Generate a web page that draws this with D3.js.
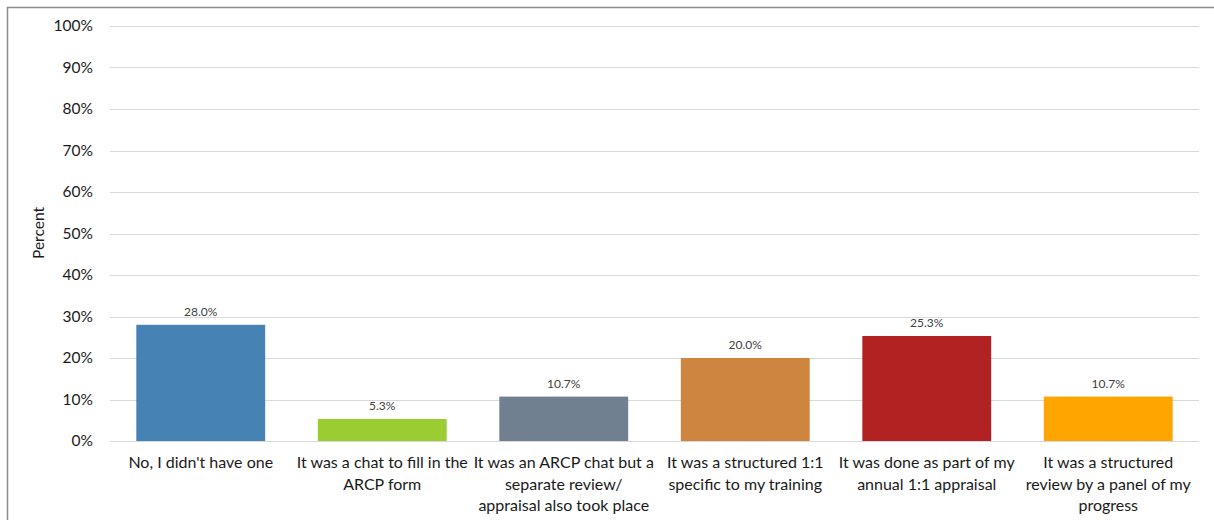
<!DOCTYPE html>
<html>
<head>
<meta charset="utf-8">
<script src="https://cdn.jsdelivr.net/npm/d3@7"></script>
<style>
  body { margin: 0; background: #fff; }
  svg text { font-family: Lato, "Open Sans", sans-serif; fill: #1a1a1a; }
</style>
</head>
<body>
<script>
'use strict';

// categories (line breaks as in the original chart)
const categories = [
  "No, I didn't have one",
  "It was a chat to fill in the\nARCP form",
  "It was an ARCP chat but a\nseparate review/\nappraisal also took place",
  "It was a structured 1:1\nspecific to my training",
  "It was done as part of my\nannual 1:1 appraisal",
  "It was a structured\nreview by a panel of my\nprogress"
];
const values = [28.0, 5.3, 10.7, 20.0, 25.3, 10.7];
const barColors = ["#4682B4", "#9ACD32", "#708090", "#CD853F", "#B22222", "#FFA500"];
const yTicks = [0, 10, 20, 30, 40, 50, 60, 70, 80, 90, 100];

const width = 1214, height = 520;
const margin = { left: 110, right: 15, top: 26, bottom: 79 };

const svg = d3.select('body').append('svg')
  .attr('width', width)
  .attr('height', height);

// outer chart frame
svg.append('rect')
  .attr('x', 7.5).attr('y', 7.5)
  .attr('width', width + 10).attr('height', height + 10)
  .attr('fill', 'none')
  .attr('stroke', '#8c8c8c')
  .attr('stroke-width', 1.5);

const xScale = d3.scaleBand()
  .domain(categories)
  .range([margin.left, width - margin.right])
  .paddingInner(0.29)
  .paddingOuter(0.145);

const yScale = d3.scaleLinear()
  .domain([0, 100])
  .range([height - margin.bottom, margin.top]);

// gridlines
svg.append('g')
  .selectAll('line')
  .data(yTicks)
  .enter()
  .append('line')
    .attr('x1', margin.left)
    .attr('x2', width - margin.right)
    .attr('y1', d => Math.round(yScale(d)) + 0.5)
    .attr('y2', d => Math.round(yScale(d)) + 0.5)
    .attr('stroke', '#d9d9d9')
    .attr('stroke-width', 1);

// y axis labels
const yAxis = d3.axisLeft(yScale)
  .tickValues(yTicks)
  .tickFormat(d => d + '%')
  .tickSize(0)
  .tickPadding(17);
svg.append('g')
  .attr('transform', `translate(${margin.left}, 0)`)
  .call(yAxis)
  .call(g => g.select('.domain').remove())
  .selectAll('text')
    .style('font-size', '15.5px')
    .style('font-family', 'Lato, "Open Sans", sans-serif')
    .attr('fill', '#1a1a1a');

// bars
svg.selectAll('.bar')
  .data(values)
  .enter()
  .append('rect')
    .attr('class', 'bar')
    .attr('x', (d, i) => xScale(categories[i]))
    .attr('width', xScale.bandwidth())
    .attr('y', d => yScale(d))
    .attr('height', d => yScale(0) - yScale(d))
    .attr('fill', (d, i) => barColors[i]);

// value labels
svg.selectAll('.val')
  .data(values)
  .enter()
  .append('text')
    .attr('class', 'val')
    .attr('x', (d, i) => xScale(categories[i]) + xScale.bandwidth() / 2)
    .attr('y', d => yScale(d) - 9)
    .attr('text-anchor', 'middle')
    .style('font-size', '12px')
    .style('fill', '#404040')
    .text(d => d.toFixed(1) + '%');

// category labels (multi-line)
const xLabels = svg.selectAll('.xlab')
  .data(categories)
  .enter()
  .append('text')
    .attr('class', 'xlab')
    .attr('text-anchor', 'middle')
    .style('font-size', '16px');
xLabels.each(function(d) {
  const cx = xScale(d) + xScale.bandwidth() / 2;
  d.split('\n').forEach((line, i) => {
    d3.select(this).append('tspan')
      .attr('x', cx)
      .attr('y', 468 + i * 21.7)
      .text(line);
  });
});

// y axis title
svg.append('text')
  .attr('transform', 'translate(44, 233)rotate(-90)')
  .attr('text-anchor', 'middle')
  .style('font-size', '15.5px')
  .text('Percent');
</script>
</body>
</html>
